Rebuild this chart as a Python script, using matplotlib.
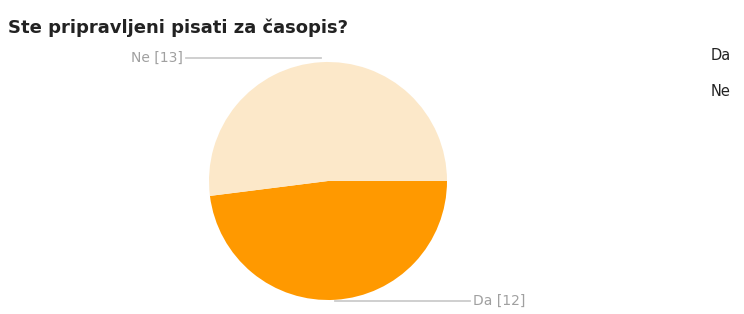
import numpy as np
import matplotlib.pyplot as plt

title = 'Ste pripravljeni pisati za časopis?'
labels = ['Da', 'Ne']
counts = [12, 13]
colors = ['#ff9900', '#fce8c9']

fig = plt.figure(figsize=(7.44, 3.14), dpi=100)
ax = fig.add_axes([0, 0, 1, 1])

cx, cy, r = 328, 314 - 181, 119
wedges, _ = ax.pie(counts, colors=colors, startangle=0, counterclock=False,
                   center=(cx, cy), radius=r, frame=True,
                   wedgeprops=dict(linewidth=0))
ax.set_xlim(0, 744)
ax.set_ylim(0, 314)
ax.set_aspect('equal')
ax.axis('off')

# leader lines from the wedge midpoints
for w, lab, n in zip(wedges, labels, counts):
    mid = np.deg2rad((w.theta1 + w.theta2) / 2)
    x0 = cx + r * np.cos(mid)
    y0 = cy + r * np.sin(mid)
    side = 1 if np.sin(mid) < 0 else -1
    yl = y0 + (4 if side < 0 else -1)
    x1 = x0 + side * 135
    ax.plot([x0, x1], [yl, yl], color='#cccccc', lw=1.3)
    ha = 'left' if side > 0 else 'right'
    ax.text(x1 + side * 3, yl, f'{lab} [{n}]',
            ha=ha, va='center', fontsize=10, color='#a0a0a0')

fig.text(8 / 744, 1 - 28 / 314, title, fontsize=13, fontweight='bold',
         color='#222222', va='center', ha='left')

for i, lab in enumerate(labels):
    fig.text(711 / 744, 1 - (56 + i * 35) / 314, lab, fontsize=10.5,
             color='#222222', va='center', ha='left')

fig.savefig('out.png', dpi=100)
